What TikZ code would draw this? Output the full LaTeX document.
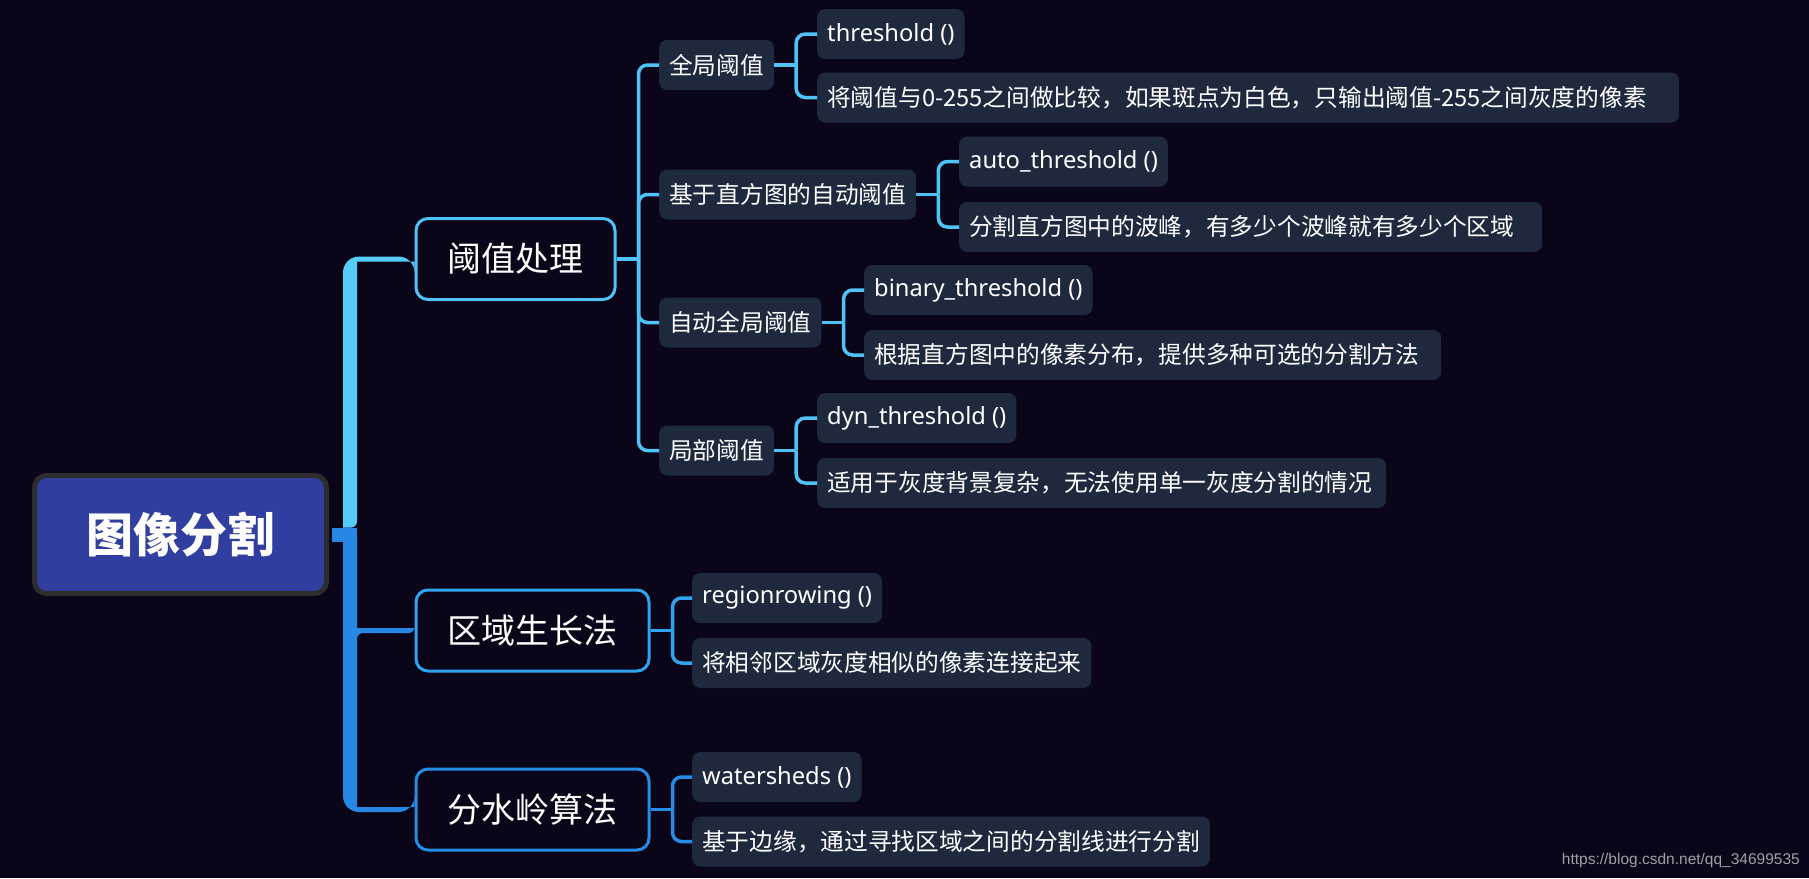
\documentclass[tikz,border=0pt]{standalone}
\usepackage{fontspec}
\setmainfont{Noto Sans}
\newfontfamily\cjk{Noto Sans CJK SC}
\newfontfamily\urlfont{Liberation Sans}
\usepackage{tikz}

\definecolor{bgcol}{RGB}{10,5,24}
\definecolor{rootfill}{RGB}{48,63,159}
\definecolor{rootedge}{RGB}{45,45,48}
\definecolor{leaffill}{RGB}{31,41,62}
\definecolor{cyanbr}{RGB}{86,204,250}
\definecolor{thrcol}{RGB}{79,195,247}
\definecolor{rgncol}{RGB}{48,164,240}
\definecolor{wshcol}{RGB}{38,140,230}
\definecolor{trunklow}{RGB}{38,135,228}
\definecolor{urlgray}{RGB}{160,160,165}

\tikzset{
  rootbox/.style={draw=rootedge, line width=5pt, fill=rootfill, rounded corners=12pt, text=white,
    font=\cjk\bfseries\fontsize{47}{56}\selectfont, minimum width=292pt, minimum height=118pt, inner sep=0pt},
  mainbox/.style={draw=#1, line width=3pt, fill=bgcol, rounded corners=12pt, text=white,
    font=\cjk\fontsize{34}{40}\selectfont, minimum height=81pt, inner xsep=31.5pt, inner ysep=0pt, anchor=west},
  subbox/.style={fill=leaffill, rounded corners=8pt, text=white,
    font=\cjk\fontsize{23.7}{28}\selectfont, minimum height=50pt, inner xsep=10pt, inner ysep=0pt, anchor=west},
  leafbox/.style={subbox, font=\fontsize{23.7}{28}\selectfont},
  link/.style={draw=#1, line width=3.5pt, rounded corners=9pt},
}

\begin{document}
\begin{tikzpicture}[x=1pt, y=-1pt]
    % background
    \fill[bgcol] (0,0) rectangle (1809,878);

    % root and main branches
    \node[rootbox] (root) at (180.5,534.5) {图像分割};
    \node[mainbox=thrcol] (thr) at (414.5,259) {阈值处理};
    \node[mainbox=rgncol] (rgn) at (414.5,630.5) {区域生长法};
    \node[mainbox=wshcol] (wsh) at (414.5,809.5) {分水岭算法};

    % thresholding methods
    \node[subbox] (glob) at (659,65) {全局阈值};
    \node[subbox] (hist) at (659,194.5) {基于直方图的自动阈值};
    \node[subbox] (agl) at (659,322.5) {自动全局阈值};
    \node[subbox] (loc) at (659,450.5) {局部阈值};

    % leaves
    \node[leafbox] (t1) at (817,34) {threshold ()};
    \node[subbox, text width=842pt, align=left] (t2) at (817,97.5) {将阈值与0-255之间做比较，如果斑点为白色，只输出阈值-255之间灰度的像素};
    \node[leafbox] (a1) at (959,161.5) {auto\_threshold ()};
    \node[subbox, text width=563pt, align=left] (a2) at (959,227) {分割直方图中的波峰，有多少个波峰就有多少个区域};
    \node[leafbox] (b1) at (864,290) {binary\_threshold ()};
    \node[subbox, text width=557pt, align=left] (b2) at (864,355) {根据直方图中的像素分布，提供多种可选的分割方法};
    \node[leafbox] (d1) at (817,418) {dyn\_threshold ()};
    \node[subbox, text width=549pt, align=left] (d2) at (817,483) {适用于灰度背景复杂，无法使用单一灰度分割的情况};
    \node[leafbox] (r1) at (692,598) {regionrowing ()};
    \node[subbox] (r2) at (692,663) {将相邻区域灰度相似的像素连接起来};
    \node[leafbox] (w1) at (692,777) {watersheds ()};
    \node[subbox] (w2) at (692,841.5) {基于边缘，通过寻找区域之间的分割线进行分割};

    \node[anchor=east, inner sep=0pt, text=urlgray, font=\urlfont\fontsize{15.5}{18}\selectfont] (wm) at (1800,860) {https://blog.csdn.net/qq\_34699535};

    % trunk
    \coordinate (tkl) at (343,527.5);
    \coordinate (tkr) at (357,527.5);
    \fill[cyanbr] (tkl) [rounded corners=16pt] |- ([yshift=2.5pt]thr.west)
      [sharp corners] -- ([yshift=-2.5pt]thr.west) -- ([yshift=-2.5pt]thr.west -| tkr)
      [rounded corners=6pt] -- (tkr) [sharp corners] -- cycle;
    \fill[trunklow] (tkl) [rounded corners=16pt] |- ([yshift=-2.5pt]wsh.west)
      [sharp corners] -- ([yshift=2.5pt]wsh.west) -- ([yshift=2.5pt]wsh.west -| tkr)
      [rounded corners=6pt] -- ([yshift=-2.5pt]rgn.west -| tkr) -- ([yshift=-2.5pt]rgn.west)
      [sharp corners] -- ([yshift=2.5pt]rgn.west) -- ([yshift=2.5pt]rgn.west -| tkr)
      [rounded corners=6pt] -- (tkr) [sharp corners] -- cycle;
    \fill[trunklow] ([xshift=2.5pt,yshift=7pt]root.east) rectangle ([yshift=-7pt]root.east -| tkr);

    % branches
    \draw[link=thrcol] (thr.east) -- ++(22,0);
    \foreach \n in {glob,hist,agl,loc}
      \draw[link=thrcol] ([xshift=22pt]thr.east) |- (\n.west);
    \foreach \p/\a/\b in {glob/t1/t2, hist/a1/a2, agl/b1/b2, loc/d1/d2} {
      \draw[link=thrcol] (\p.east) -- ++(22,0);
      \draw[link=thrcol] ([xshift=22pt]\p.east) |- (\a.west);
      \draw[link=thrcol] ([xshift=22pt]\p.east) |- (\b.west);
    }
    \draw[link=rgncol] (rgn.east) -- ++(22,0);
    \draw[link=rgncol] ([xshift=22pt]rgn.east) |- (r1.west);
    \draw[link=rgncol] ([xshift=22pt]rgn.east) |- (r2.west);
    \draw[link=wshcol] (wsh.east) -- ++(22,0);
    \draw[link=wshcol] ([xshift=22pt]wsh.east) |- (w1.west);
    \draw[link=wshcol] ([xshift=22pt]wsh.east) |- (w2.west);
\end{tikzpicture}
\end{document}
